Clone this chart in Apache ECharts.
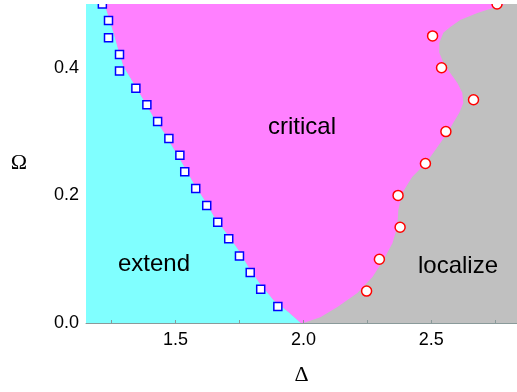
<!DOCTYPE html>
<html>
<head>
<meta charset="utf-8">
<script src="https://cdn.jsdelivr.net/npm/echarts@6.0.0/dist/echarts.min.js"></script>
<style>
  html, body { margin: 0; padding: 0; background: #fff; }
  #main { width: 517px; height: 392px; }
</style>
</head>
<body>
<div id="main"></div>
<script>
// blue squares (extend / critical edge)
var squareDelta = [1.900, 1.833, 1.792, 1.750, 1.708, 1.665, 1.622, 1.579, 1.536, 1.517,
                   1.474, 1.430, 1.388, 1.345, 1.281, 1.281, 1.238, 1.238, 1.214];
var squareOmega = [0.026, 0.053, 0.079, 0.105, 0.132, 0.158, 0.184, 0.211, 0.237, 0.263,
                   0.289, 0.316, 0.342, 0.368, 0.395, 0.421, 0.447, 0.474, 0.500];

// red circles (critical / localize edge)
var circleDelta = [2.247, 2.297, 2.378, 2.370, 2.477, 2.557, 2.665, 2.540, 2.505, 2.757];
var circleOmega = [0.05, 0.10, 0.15, 0.20, 0.25, 0.30, 0.35, 0.40, 0.45, 0.50];

// phase boundaries, bottom to top
var leftEdgeDelta = [1.990, 1.945, 1.883, 1.828, 1.785, 1.746, 1.699, 1.652, 1.613, 1.570, 1.535,
                     1.496, 1.457, 1.414, 1.375, 1.336, 1.297, 1.277, 1.258, 1.240, 1.223];
var leftEdgeOmega = [0.000, 0.016, 0.036, 0.063, 0.088, 0.115, 0.141, 0.166, 0.193, 0.220, 0.245,
                     0.271, 0.298, 0.323, 0.350, 0.376, 0.402, 0.428, 0.455, 0.478, 0.500];
var rightEdgeDelta = [2.000, 2.066, 2.133, 2.211, 2.270, 2.313, 2.348, 2.367, 2.371, 2.387, 2.425,
                      2.480, 2.508, 2.535, 2.563, 2.586, 2.609, 2.625, 2.621, 2.602, 2.574,
                      2.547, 2.531, 2.531, 2.547, 2.574, 2.613, 2.680, 2.789];
var rightEdgeOmega = [0.000, 0.009, 0.025, 0.047, 0.072, 0.099, 0.125, 0.151, 0.177, 0.204, 0.229,
                      0.251, 0.267, 0.282, 0.298, 0.314, 0.329, 0.345, 0.361, 0.376, 0.392,
                      0.408, 0.424, 0.439, 0.455, 0.464, 0.475, 0.486, 0.500];

// tick labels
var xLabels = [1.5, 2.0, 2.5];
var xTicks = [1.25, 1.5, 1.75, 2.0, 2.25, 2.5, 2.75];
var yLabels = [0.0, 0.2, 0.4];

var myChart = echarts.init(document.getElementById('main'));

function pairs(xs, ys) {
    return xs.map(function (x, i) { return [x, ys[i]]; });
}

// cyan region: left plot edge -> left boundary
function renderExtend(params, api) {
    var cs = params.coordSys;
    var pts = [[cs.x, cs.y + cs.height]];
    for (var i = 0; i < leftEdgeDelta.length; i++) {
        pts.push(api.coord([leftEdgeDelta[i], leftEdgeOmega[i]]));
    }
    pts.push([cs.x, cs.y]);
    return { type: 'polygon', shape: { points: pts }, style: { fill: '#80ffff' } };
}

// magenta region: between both boundaries
function renderCritical(params, api) {
    var pts = [];
    for (var i = 0; i < leftEdgeDelta.length; i++) {
        pts.push(api.coord([leftEdgeDelta[i], leftEdgeOmega[i]]));
    }
    for (var j = rightEdgeDelta.length - 1; j >= 0; j--) {
        pts.push(api.coord([rightEdgeDelta[j], rightEdgeOmega[j]]));
    }
    return { type: 'polygon', shape: { points: pts }, style: { fill: '#ff80ff' } };
}

var sansFont = '"Liberation Sans", Arial, sans-serif';
var serifFont = '"Liberation Serif", "Times New Roman", serif';

var option = {
    animation: false,
    backgroundColor: '#fff',
    grid: {
        left: 86, right: 0, top: 4, bottom: 69,
        show: true, backgroundColor: '#c0c0c0', borderWidth: 0
    },
    xAxis: {
        type: 'value',
        min: 1.15, max: 2.835,
        z: 5,
        name: 'Δ',
        nameLocation: 'middle',
        nameGap: 41,
        nameTextStyle: { fontFamily: serifFont, fontSize: 22, color: '#000' },
        axisLine: { show: true, lineStyle: { color: '#8a9a9a', width: 1 } },
        axisTick: { show: true, inside: true, length: 3, customValues: xTicks, lineStyle: { color: '#8a9a9a' } },
        axisLabel: {
            customValues: xLabels, margin: 8,
            fontFamily: sansFont, fontSize: 18, color: '#000',
            formatter: function (v) { return v.toFixed(1); }
        },
        splitLine: { show: false }
    },
    yAxis: {
        type: 'value',
        min: 0, max: 0.5,
        name: 'Ω',
        nameLocation: 'middle',
        nameRotate: 0,
        nameGap: 59,
        nameTextStyle: { fontFamily: serifFont, fontSize: 22, color: '#000' },
        axisLine: { show: false },
        axisTick: { show: false },
        axisLabel: {
            customValues: yLabels, margin: 7,
            fontFamily: sansFont, fontSize: 18, color: '#000',
            formatter: function (v) { return v.toFixed(1); }
        },
        splitLine: { show: false }
    },
    graphic: [
        // hide the upper halves of the top markers, like the plot clip
        { type: 'rect', left: 0, top: 0, shape: { width: 517, height: 4 }, style: { fill: '#fff' }, z: 10 },
        { type: 'text', x: 302, y: 127, z: 10,
          style: { text: 'critical', font: '24px ' + sansFont, fill: '#000', align: 'center', verticalAlign: 'middle' } },
        { type: 'text', x: 154, y: 264, z: 10,
          style: { text: 'extend', font: '24px ' + sansFont, fill: '#000', align: 'center', verticalAlign: 'middle' } },
        { type: 'text', x: 458, y: 266, z: 10,
          style: { text: 'localize', font: '24px ' + sansFont, fill: '#000', align: 'center', verticalAlign: 'middle' } }
    ],
    series: [
        { type: 'custom', renderItem: renderExtend, data: [[2, 0.25]], silent: true },
        { type: 'custom', renderItem: renderCritical, data: [[2, 0.25]], silent: true },
        {
            type: 'scatter',
            data: pairs(squareDelta, squareOmega),
            symbol: 'rect',
            symbolSize: 8,
            clip: false,
            itemStyle: { color: '#fff', borderColor: '#0000ff', borderWidth: 1.5, opacity: 1 }
        },
        {
            type: 'scatter',
            data: pairs(circleDelta, circleOmega),
            symbol: 'circle',
            symbolSize: 10,
            clip: false,
            itemStyle: { color: '#fff', borderColor: '#ff0000', borderWidth: 1.5, opacity: 1 }
        }
    ]
};

myChart.setOption(option);
</script>
</body>
</html>
